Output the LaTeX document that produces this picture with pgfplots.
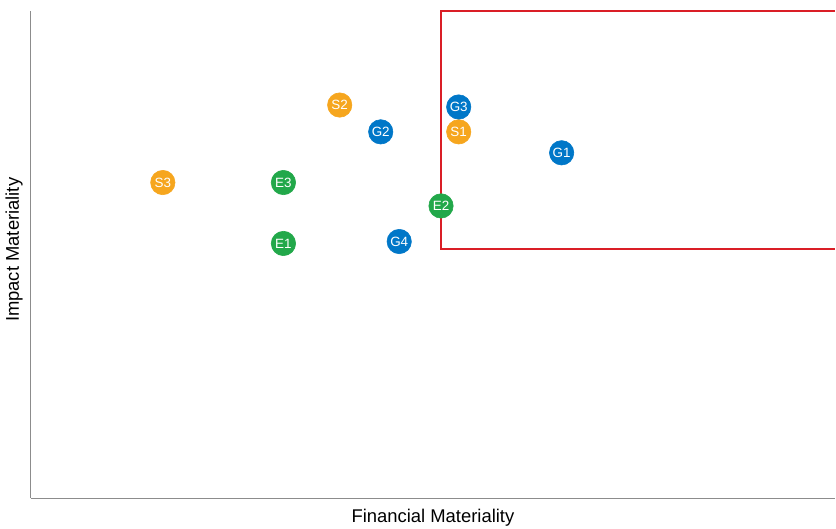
\documentclass[border=0pt]{standalone}
\usepackage{fontspec}
\setmainfont{Liberation Sans}
\usepackage{pgfplots}
\pgfplotsset{compat=1.18}

\definecolor{esgE}{RGB}{34,168,74}
\definecolor{esgS}{RGB}{246,166,30}
\definecolor{esgG}{RGB}{0,119,200}
\definecolor{boxred}{RGB}{218,30,38}
\definecolor{axgray}{RGB}{140,140,140}

\pgfplotsset{
  dot/.style={color=#1, only marks, mark=*, mark size=12.2bp,
    mark options={draw=#1, fill=#1, line width=0.6bp},
    nodes near coords, point meta=explicit symbolic,
    nodes near coords style={anchor=center, text=white, inner sep=0pt,
      font=\fontsize{13.5}{14}\selectfont}},
}

\begin{document}
\begin{tikzpicture}
\begin{axis}[
    scale only axis,
    width=805bp, height=488bp,
    xmin=0, xmax=10, ymin=0, ymax=10,
    axis lines=left,
    axis line style={draw=axgray, line width=1bp, -},
    xtick=\empty, ytick=\empty,
    clip=false,
    xlabel={Financial Materiality},
    ylabel={Impact Materiality},
    label style={font=\fontsize{18.5}{20}\selectfont, inner sep=2bp},
    xlabel style={at={(axis description cs:0.5,0)}, anchor=north, yshift=-9bp},
    ylabel style={at={(axis description cs:0,0.51)}, anchor=south, yshift=6bp},
  ]
  \path (axis description cs:-0.0385,-0.0574) rectangle (axis description cs:1,1.0225);
  \draw[boxred, line width=2bp] (axis cs:10,10) -- (axis cs:5.10,10)
    -- (axis cs:5.10,5.11) -- (axis cs:10,5.11);

  \addplot[dot=esgE] table[meta=label] {
x y label
3.14 6.48 E3
3.14 5.23 E1
5.10 6.00 E2
  };
  \addplot[dot=esgS] table[meta=label] {
x y label
1.64 6.48 S3
3.84 8.07 S2
5.32 7.52 S1
  };
  \addplot[dot=esgG] table[meta=label] {
x y label
4.35 7.52 G2
4.58 5.27 G4
5.32 8.03 G3
6.60 7.09 G1
  };
\end{axis}
\end{tikzpicture}
\end{document}
